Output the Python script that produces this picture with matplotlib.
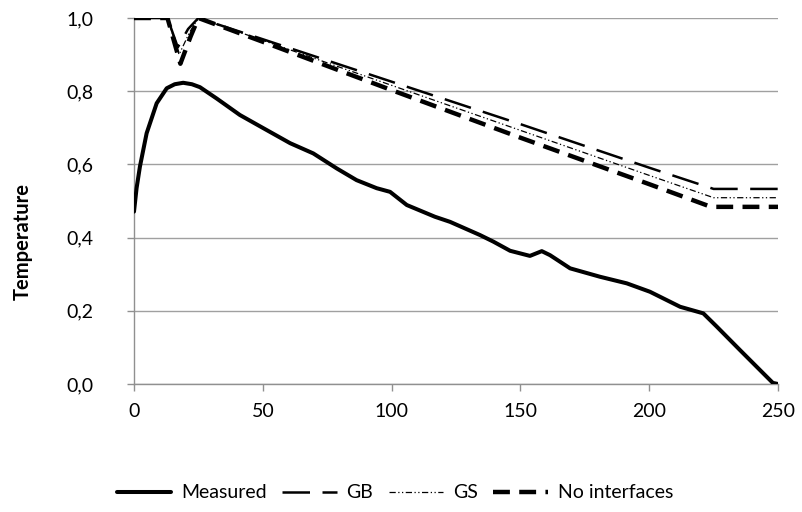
import matplotlib
matplotlib.use("Agg")
import matplotlib.pyplot as plt
from matplotlib.ticker import FuncFormatter

# ---- data ----
measured_x = [0, 1.0, 2.3, 4.9, 8.8, 12.7, 15.8, 19.1, 22.5, 25.6, 32.1, 41.1, 50.2, 60.6, 69.6,
              78.7, 86.4, 94.2, 99.4, 105.9, 116.8, 122.7, 134.3, 139.5, 146, 153.7, 158.3,
              161.5, 169.3, 180.9, 191.3, 200.3, 212, 221, 226.2, 235.2, 244.3, 248, 250]
measured_y = [0.471, 0.535, 0.594, 0.685, 0.767, 0.808, 0.819, 0.823, 0.819, 0.811, 0.78, 0.735,
              0.699, 0.658, 0.63, 0.589, 0.557, 0.535, 0.525, 0.489, 0.457, 0.443, 0.407, 0.389,
              0.364, 0.35, 0.363, 0.352, 0.316, 0.293, 0.275, 0.252, 0.211, 0.193, 0.157, 0.093,
              0.029, 0.003, 0.0]

gb_x = [0, 13, 17, 21, 25, 50, 100, 150, 200, 225, 250]
gb_y = [1.0, 1.0, 0.92, 0.97, 1.0, 0.942, 0.826, 0.71, 0.591, 0.533, 0.533]

gs_x = [0, 13, 17.5, 21.5, 25, 50, 100, 150, 200, 225, 250]
gs_y = [1.0, 1.0, 0.90, 0.96, 1.0, 0.939, 0.816, 0.693, 0.570, 0.509, 0.509]

ni_x = [0, 13, 18, 22, 25, 50, 100, 150, 200, 224, 250]
ni_y = [1.0, 1.0, 0.875, 0.95, 1.0, 0.935, 0.803, 0.673, 0.546, 0.484, 0.484]

x_ticks = [0, 50, 100, 150, 200, 250]
y_ticks = [0.0, 0.2, 0.4, 0.6, 0.8, 1.0]

# ---- figure ----
plt.rcParams['font.family'] = ['Lato', 'DejaVu Sans']
fig = plt.figure(figsize=(8.03, 5.12), dpi=100)
ax = fig.add_axes([134/803, 1-384/512, (778-134)/803, (384-18)/512])

ax.plot(measured_x, measured_y, color='black', lw=2.9, solid_capstyle='round',
        solid_joinstyle='round', label='Measured', zorder=5)
ax.plot(gb_x, gb_y, color='black', lw=1.8, dashes=(11, 5), label='GB', zorder=4)
ax.plot(gs_x, gs_y, color='black', lw=0.9, dashes=(5, 2, 1, 2, 1, 2), label='GS', zorder=4)
ax.plot(ni_x, ni_y, color='black', lw=3.2, dashes=(3.8, 2.1), label='No interfaces', zorder=4)

ax.set_xlim(0, 250)
ax.set_ylim(0, 1.0)
ax.set_xticks(x_ticks)
ax.set_yticks(y_ticks)
ax.yaxis.set_major_formatter(FuncFormatter(lambda v, p: f"{v:.1f}".replace('.', ',')))
ax.grid(axis='y', color='#a0a0a0', lw=1.0)
ax.set_axisbelow(True)
for s in ['top', 'right']:
    ax.spines[s].set_visible(False)
for s in ['left', 'bottom']:
    ax.spines[s].set_color('#909090')
    ax.spines[s].set_linewidth(1.0)
ax.spines['bottom'].set_zorder(1)
ax.tick_params(axis='both', colors='#909090', labelcolor='black', labelsize=14, length=5, width=1)
ax.tick_params(axis='y', pad=24)
ax.tick_params(axis='x', pad=9)
for lab in ax.get_yticklabels() + ax.get_xticklabels():
    lab.set_clip_on(False)

fig.text(23/803, 1-242/512, 'Temperature', rotation=90, fontsize=14.5, fontweight='bold',
         ha='center', va='center')

leg = fig.legend(loc='center', bbox_to_anchor=(395/803, 1-493/512), ncol=4, frameon=False,
                 fontsize=14, handlelength=2.8, columnspacing=0.8, handletextpad=0.5)

fig.savefig('out.png', dpi=100)
